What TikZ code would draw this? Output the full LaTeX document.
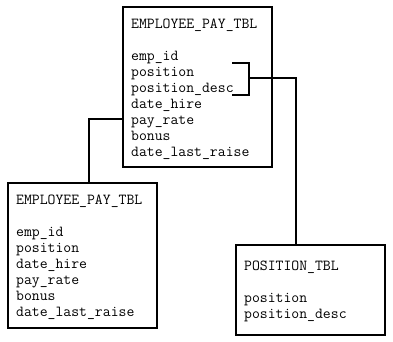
\documentclass[tikz,border=0pt]{standalone}
\usepackage{fontspec}
\begin{document}
\begin{tikzpicture}[x=1pt,y=-1pt,
  tbl/.style={draw=black, line width=2pt, fill=white, inner sep=0pt, anchor=north west},
  txt/.style={font=\ttfamily\fontsize{15.3}{16}\selectfont, align=left, inner sep=0pt, anchor=base west},
  conn/.style={draw=black, line width=2pt}]
\useasboundingbox (0,0) rectangle (393,341);

% table boxes
\node[tbl, minimum width=149pt, minimum height=160pt] (pay) at (122,6) {};
\node[tbl, minimum width=149pt, minimum height=145pt] (old) at (7,182) {};
\node[tbl, minimum width=149pt, minimum height=90pt] (pos) at (235,244) {};

% table contents (placed by the baseline of their last line)
\node[txt] (paytxt) at (131,156) {EMPLOYEE\_PAY\_TBL\\[16pt]emp\_id\\position\\position\_desc\\date\_hire\\pay\_rate\\bonus\\date\_last\_raise};
\node[txt] (oldtxt) at (16,316) {EMPLOYEE\_PAY\_TBL\\[16pt]emp\_id\\position\\date\_hire\\pay\_rate\\bonus\\date\_last\_raise};
\node[txt] (postxt) at (244,318) {POSITION\_TBL\\[16pt]position\\position\_desc};

% link between the two pay tables
\coordinate (bend) at (89,119);
\draw[conn] (pay.west |- bend) -| (old.north -| bend);

% bracket grouping position / position_desc, linked to POSITION_TBL
\coordinate (bt) at (232,63);
\coordinate (bb) at (232,95);
\coordinate (bm) at (249,78);
\coordinate (drop) at (296,78);
\draw[conn] (bt) -- (bt -| bm) -- (bb -| bm) -- (bb);
\draw[conn] (bm) -- (drop) -- (pos.north -| drop);
\end{tikzpicture}
\end{document}
